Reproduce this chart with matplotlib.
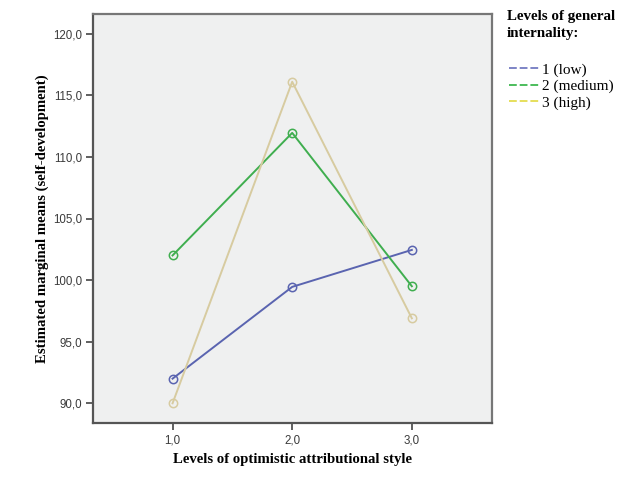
import matplotlib
matplotlib.use('Agg')
import matplotlib.pyplot as plt
from matplotlib.lines import Line2D
from matplotlib.ticker import FuncFormatter

# levels of optimistic attributional style
x_levels = [1.0, 2.0, 3.0]

# estimated marginal means per level of general internality
low = [92.0, 99.45, 102.45]
medium = [102.0, 111.95, 99.5]
high = [90.0, 116.1, 96.9]

series_names = ['1 (low)', '2 (medium)', '3 (high)']
line_colors = ['#5a64b0', '#3fae4f', '#d7cba0']
legend_colors = ['#7d84c6', '#4cbd5c', '#e6df5c']

y_ticks = [90, 95, 100, 105, 110, 115, 120]

serif = ['Liberation Serif', 'DejaVu Serif']
sans = ['Liberation Sans', 'DejaVu Sans']

fig = plt.figure(figsize=(6.4, 4.78), dpi=100)
ax = fig.add_axes([93 / 640, 1 - 423 / 478, 399 / 640, 409 / 478])
ax.set_facecolor('#eff0f0')

for vals, col in zip([low, medium, high], line_colors):
    ax.plot(x_levels, vals, '-', color=col, linewidth=1.4,
            marker='o', markersize=6, markerfacecolor='none',
            markeredgecolor=col, markeredgewidth=1.1)

ax.set_xlim(0.335, 3.67)
ax.set_ylim(88.4, 121.6)
ax.set_xticks(x_levels)
ax.set_yticks(y_ticks)
fmt = FuncFormatter(lambda v, p: ('%.1f' % v).replace('.', ','))
ax.xaxis.set_major_formatter(fmt)
ax.yaxis.set_major_formatter(fmt)
for lab in ax.get_xticklabels() + ax.get_yticklabels():
    lab.set_family(sans)
    lab.set_fontsize(8.3)
    lab.set_color('#3a3a3a')
ax.tick_params(direction='out', length=5, width=1.2, color='#444444', pad=3)

for side in ['left', 'bottom', 'right', 'top']:
    ax.spines[side].set_color('#555555')
    ax.spines[side].set_linewidth(1.6)
ax.spines['right'].set_color('#777777')
ax.spines['top'].set_color('#777777')

ax.set_xlabel('Levels of optimistic attributional style', family=serif,
              fontweight='bold', fontsize=10.6, labelpad=5)
ax.set_ylabel('Estimated marginal means (self-development)', family=serif,
              fontweight='bold', fontsize=10.6, labelpad=3)

fig.text(507 / 640, 1 - 10 / 478, 'Levels of general\ninternality:',
         family=serif, fontweight='bold', fontsize=10.8, va='top',
         linespacing=1.45)

handles = [Line2D([0], [0], color=c, linewidth=1.4, linestyle=(0, (4, 1.5)))
           for c in legend_colors]
leg = fig.legend(handles, series_names, loc='upper left',
                 bbox_to_anchor=(498 / 640, 1 - 52 / 478), frameon=False,
                 prop={'family': serif, 'size': 11}, handlelength=2.1,
                 handletextpad=0.1, labelspacing=0.18, borderpad=0.2)

fig.savefig('out.png', dpi=100)
